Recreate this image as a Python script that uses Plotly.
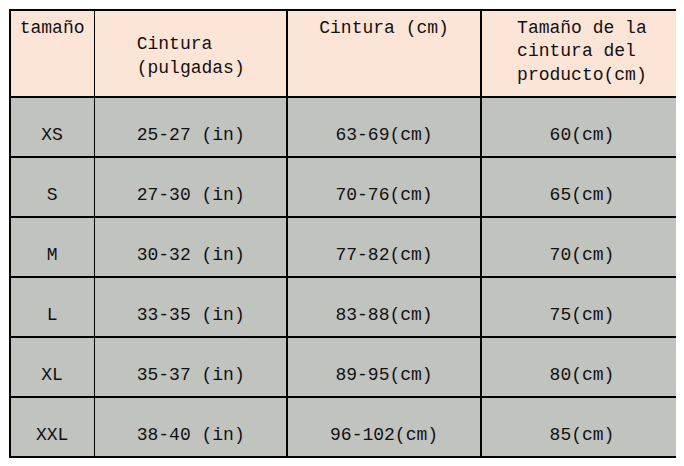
import plotly.graph_objects as go

headers = ["tamaño", "Cintura<br>(pulgadas)", "Cintura (cm)", "Tamaño de la<br>cintura del<br>producto(cm)"]
sizes = ["XS", "S", "M", "L", "XL", "XXL"]
inches = ["25-27 (in)", "27-30 (in)", "30-32 (in)", "33-35 (in)", "35-37 (in)", "38-40 (in)"]
cm = ["63-69(cm)", "70-76(cm)", "77-82(cm)", "83-88(cm)", "89-95(cm)", "96-102(cm)"]
product = ["60(cm)", "65(cm)", "70(cm)", "75(cm)", "80(cm)", "85(cm)"]

W, H = 684, 466
font = dict(family="Liberation Mono", size=18, color="#111111")

def pad_header(h):
    n = h.count("<br>") + 1
    if n == 1:
        return "<br>" + h
    if n == 2:
        return "<span style='font-size:10px'> </span><br>" + h
    return h

def pad(v):
    return ["<span style='font-size:14px'> </span><br>" + s for s in v]

fig = go.Figure(go.Table(
    domain=dict(x=[2/W, 675/W], y=[0, 1-2/H]),
    columnwidth=[83, 190, 191, 199],
    header=dict(values=[pad_header(h) for h in headers], fill_color="#fce4d6",
                line=dict(color="black", width=1.5), align="center", font=font, height=87),
    cells=dict(values=[pad(sizes), pad(inches), pad(cm), pad(product)], fill_color="#c1c3bf",
               line=dict(color="black", width=1.5), align="center", font=font, height=60),
))
fig.update_layout(width=W, height=H, margin=dict(l=0, r=0, t=0, b=0),
                  paper_bgcolor="white")
fig.write_html("out.html")
